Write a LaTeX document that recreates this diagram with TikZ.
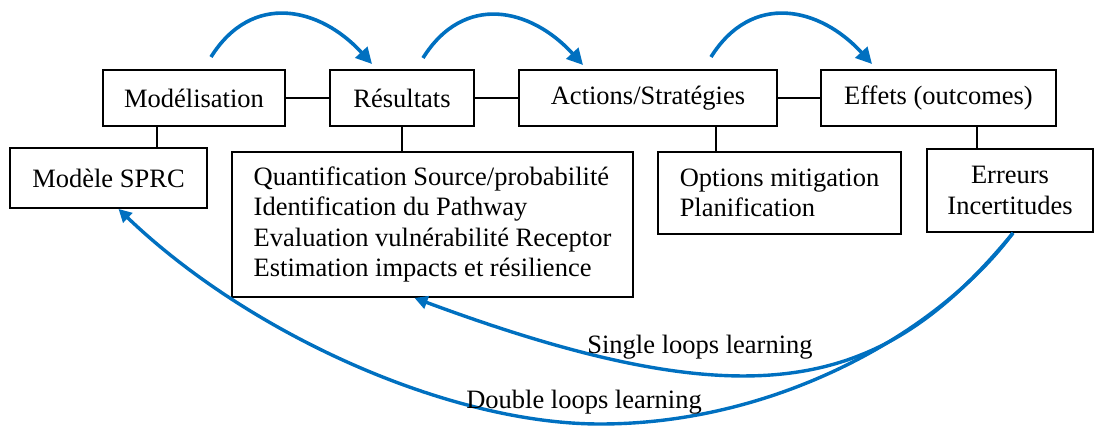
\documentclass[tikz,border=0pt]{standalone}
\usepackage{fontspec}
\setmainfont{Liberation Serif}
\usetikzlibrary{arrows.meta}
\definecolor{loopblue}{RGB}{0,112,192}
\begin{document}
\begin{tikzpicture}[x=1pt,y=-1pt,
  box/.style={draw=black,line width=1.9pt,inner sep=0pt,font=\fontsize{26.5}{30.5}\selectfont},
  link/.style={draw=black,line width=1.9pt},
  flow/.style={draw=loopblue,line width=3.6pt,-{Triangle[length=16pt,width=16pt]}},
  loopflow/.style={draw=loopblue,line width=3.4pt,-{Triangle[length=13pt,width=13pt]}},
  lbl/.style={font=\fontsize{26.5}{30.5}\selectfont,inner sep=0pt}]
\useasboundingbox (0,0) rectangle (1095,427);
% top row
\node[box,minimum width=182pt,minimum height=56pt] (mod) at (194,98) {Modélisation};
\node[box,minimum width=144pt,minimum height=56pt] (res) at (402,98) {Résultats};
\node[box,minimum width=258pt,minimum height=56pt] (act) at (648,98) {Actions/Stratégies};
\node[box,minimum width=235pt,minimum height=56pt] (eff) at (938.5,98) {Effets (outcomes)};
% lower row
\node[box,minimum width=197pt,minimum height=60pt] (sprc) at (108.5,178) {Modèle SPRC};
\node[box,minimum width=401pt,minimum height=145pt,align=left] (big) at (432.5,224.5)
  {Quantification Source/probabilité\\Identification du Pathway\\Evaluation vulnérabilité Receptor\\Estimation impacts et résilience};
\node[box,minimum width=243pt,minimum height=82pt,align=left] (opt) at (779.5,193)
  {Options mitigation\\Planification};
\node[box,minimum width=166pt,minimum height=83pt,align=center] (err) at (1010,190.5)
  {Erreurs\\Incertitudes};
% horizontal links
\draw[link] (mod.east) -- (res.west);
\draw[link] (res.east) -- (act.west);
\draw[link] (act.east) -- (eff.west);
% vertical links
\draw[link] ([xshift=-37pt]mod.south) -- ([xshift=-37pt]mod.south |- sprc.north);
\draw[link] (res.south) -- (res.south |- big.north);
\draw[link] ([xshift=68pt]act.south) -- ([xshift=68pt]act.south |- opt.north);
\draw[link] ([xshift=38.5pt]eff.south) -- ([xshift=38.5pt]eff.south |- err.north);
% top arcs
\coordinate (a1s) at (211,57); \coordinate (a1e) at (372,64);
\coordinate (a2s) at (423,58); \coordinate (a2e) at (583,65);
\coordinate (a3s) at (711,57); \coordinate (a3e) at (872,64);
\draw[flow] (a1s) .. controls +(41,-65.5) and +(-52,-57) .. (a1e);
\draw[flow] (a2s) .. controls +(41,-65.5) and +(-52,-57) .. (a2e);
\draw[flow] (a3s) .. controls +(41,-65.5) and +(-52,-57) .. (a3e);
% feedback loops
\coordinate (dlow) at (600,424);
\draw[loopflow] ([xshift=3pt]err.south) .. controls (885,388) and (760,426) .. ([xshift=-18pt]big.south);
\draw[loopflow] ([xshift=3pt]err.south) .. controls (941,330) and (780,424) .. (dlow)
  .. controls (450,424) and (250,335) .. ([xshift=10pt]sprc.south);
\node[lbl] (sl) at (700,347) {Single loops learning};
\node[lbl] (dl) at (584,402) {Double loops learning};
\end{tikzpicture}
\end{document}
